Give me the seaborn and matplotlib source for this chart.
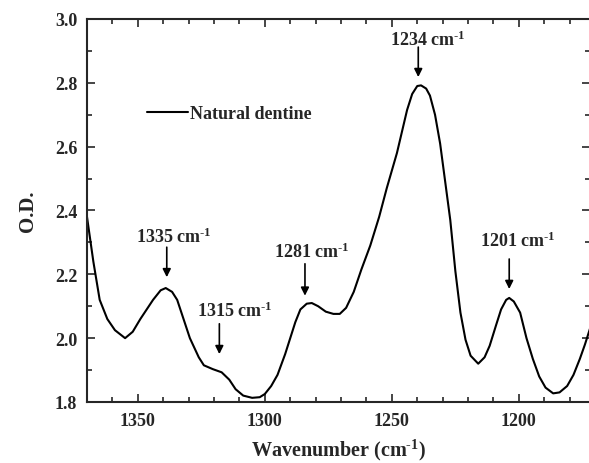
import matplotlib
matplotlib.use('Agg')
import matplotlib.pyplot as plt
from matplotlib.ticker import MultipleLocator, FormatStrFormatter
import seaborn as sns
import pandas as pd

# Спектр
wavenumber = [1370, 1367.5, 1365, 1362, 1359, 1355, 1352, 1349, 1344, 1341,
              1339, 1336.5, 1334.5, 1332, 1329.5, 1326, 1324, 1320.5, 1317, 1314,
              1311.5, 1308.5, 1305, 1302, 1300, 1297.5, 1295, 1292, 1290, 1288,
              1286, 1283.5, 1281.5, 1279, 1276, 1273, 1270.5, 1268, 1265, 1262,
              1258.5, 1255, 1252, 1248, 1244, 1242, 1240, 1238.5, 1236.5, 1235,
              1233, 1231, 1229, 1227, 1225, 1223, 1221, 1219, 1216, 1213.5,
              1211.5, 1209, 1207, 1205, 1203.8, 1202, 1199.5, 1197, 1194.5, 1192,
              1189.5, 1186.5, 1184, 1181, 1178.5, 1176, 1174, 1172]
od = [2.38, 2.24, 2.12, 2.06, 2.025, 2.00, 2.02, 2.06, 2.12, 2.15,
      2.157, 2.145, 2.12, 2.06, 2.00, 1.94, 1.915, 1.903, 1.893, 1.87,
      1.84, 1.82, 1.813, 1.815, 1.825, 1.85, 1.885, 1.95, 2.00, 2.05,
      2.09, 2.108, 2.11, 2.10, 2.083, 2.076, 2.076, 2.095, 2.145, 2.215,
      2.29, 2.38, 2.47, 2.58, 2.715, 2.765, 2.79, 2.792, 2.782, 2.76,
      2.70, 2.61, 2.49, 2.37, 2.21, 2.08, 1.995, 1.945, 1.92, 1.94,
      1.976, 2.04, 2.09, 2.12, 2.126, 2.115, 2.08, 2.00, 1.935, 1.88,
      1.845, 1.827, 1.83, 1.85, 1.885, 1.935, 1.98, 2.03]

# Підписи піків: текст, позиція тексту, стрілка (x, y початку, y кінця)
sup = '$^{\\text{-}1}$'
peak_labels = ['1234 cm' + sup, '1335 cm' + sup, '1315 cm' + sup, '1281 cm' + sup, '1201 cm' + sup]
label_x = [1235.8, 1335.7, 1311.7, 1281.5, 1200.5]
label_y = [2.917, 2.30, 2.07, 2.254, 2.29]
arrow_x = [1239.6, 1338.6, 1317.9, 1284.2, 1203.8]
arrow_y0 = [2.912, 2.285, 2.045, 2.233, 2.248]
arrow_y1 = [2.818, 2.191, 1.95, 2.133, 2.154]

df = pd.DataFrame({'Wavenumber': wavenumber, 'OD': od})

sns.set_style('ticks')
plt.rcParams['font.family'] = ['Liberation Serif', 'DejaVu Serif']
plt.rcParams['font.weight'] = 'bold'
plt.rcParams['mathtext.fontset'] = 'custom'
plt.rcParams['mathtext.rm'] = 'Liberation Serif:bold'
plt.rcParams['mathtext.bf'] = 'Liberation Serif:bold'
plt.rcParams['mathtext.it'] = 'Liberation Serif:italic:bold'
plt.rcParams['mathtext.default'] = 'rm'

fig = plt.figure(figsize=(5.89, 4.64), dpi=100)
ax = fig.add_axes([0.1477, 0.1315, 0.854, 0.8254])

sns.lineplot(data=df, x='Wavenumber', y='OD', color='black', linewidth=1.5,
             sort=False, label='Natural dentine', ax=ax)

ax.set_xlim(1370, 1172)
ax.set_ylim(1.8, 3.0)
ax.xaxis.set_major_locator(MultipleLocator(50))
ax.xaxis.set_minor_locator(MultipleLocator(10))
ax.yaxis.set_major_locator(MultipleLocator(0.2))
ax.yaxis.set_minor_locator(MultipleLocator(0.1))
ax.yaxis.set_major_formatter(FormatStrFormatter('%.1f'))
ax.tick_params(which='both', direction='in', top=True, right=True, width=1.2, labelsize=13, pad=7)
ax.tick_params(which='major', length=6)
ax.tick_params(which='minor', length=3.5)
for s in ax.spines.values():
    s.set_linewidth(1.5)

ax.set_xlabel('Wavenumber (cm' + sup + ')', fontsize=14.5, fontweight='bold', labelpad=6)
ax.set_ylabel('O.D.', fontsize=15, fontweight='bold', labelpad=12)

for txt, tx, ty, axx, y0, y1 in zip(peak_labels, label_x, label_y, arrow_x, arrow_y0, arrow_y1):
    ax.text(tx, ty, txt, ha='center', va='baseline', fontsize=13, fontweight='bold')
    ax.annotate('', xy=(axx, y1), xytext=(axx, y0),
                arrowprops=dict(arrowstyle='-|>', color='black', lw=1.2, mutation_scale=12,
                                shrinkA=0, shrinkB=0))

ax.legend(loc='center left', bbox_to_anchor=(0.1187, 0.752), frameon=False,
          handlelength=2.3, handletextpad=0.1, borderpad=0, borderaxespad=0,
          prop={'size': 13, 'weight': 'bold'})

fig.savefig('out.png', dpi=100)
